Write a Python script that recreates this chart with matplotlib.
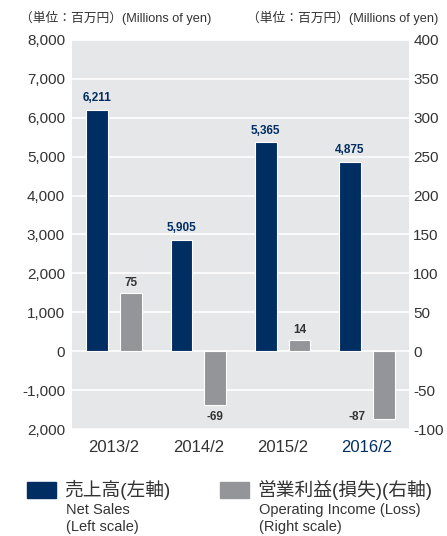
import numpy as np
import matplotlib.pyplot as plt

plt.rcParams['font.family'] = ['Liberation Sans', 'Noto Sans CJK JP']
plt.rcParams['axes.unicode_minus'] = False

years = ["2013/2", "2014/2", "2015/2", "2016/2"]
sales = [6211, 2870, 5365, 4875]          # bar heights as drawn (left scale)
sales_labels = ["6,211", "5,905", "5,365", "4,875"]
income = [75, -69, 14, -87]               # right scale
income_labels = ["75", "-69", "14", "-87"]

left_ticks = [8000, 7000, 6000, 5000, 4000, 3000, 2000, 1000, 0, -1000, -2000]
left_ticklabels = ["8,000", "7,000", "6,000", "5,000", "4,000", "3,000",
                   "2,000", "1,000", "0", "-1,000", "2,000"]
right_ticks = [400, 350, 300, 250, 200, 150, 100, 50, 0, -50, -100]

NAVY = "#002d62"
GRAY = "#939598"
BG = "#e6e7e8"
TXT = "#333333"

fig = plt.figure(figsize=(4.47, 5.36), dpi=100)
ax = fig.add_axes([0.161, 0.1996, 0.754, 0.7258])
ax2 = ax.twinx()

x = np.arange(len(years))
w = 0.26
off = 0.2

ax.set_facecolor(BG)
ax.set_xlim(-0.5, 3.5)
ax.set_ylim(-2000, 8000)
ax2.set_ylim(-100, 400)
ax.set_yticks(left_ticks)
ax.set_yticklabels(left_ticklabels)
ax2.set_yticks(right_ticks)
ax.yaxis.grid(True, color="white", linewidth=1.2)
ax.set_axisbelow(True)

ax.bar(x - off, sales, width=w, color=NAVY, edgecolor="white", linewidth=0.8, zorder=3)
ax2.bar(x + off, income, width=w, color=GRAY, edgecolor="white", linewidth=0.8, zorder=3)

for i, v in enumerate(sales):
    ax.text(x[i] - off, v + 150, sales_labels[i], ha="center", va="bottom",
            fontsize=8.5, fontweight="bold", color=NAVY)
for i, v in enumerate(income):
    if v >= 0:
        ax2.text(x[i] + off, v + 5, income_labels[i], ha="center", va="bottom",
                 fontsize=8.5, fontweight="bold", color=TXT)
    elif i == 1:
        ax2.text(x[i] + off, v - 8, income_labels[i], ha="center", va="top",
                 fontsize=8.5, fontweight="bold", color=TXT)
    else:
        ax2.text(x[i] + off - 0.22, v + 2, income_labels[i], ha="right", va="center",
                 fontsize=8.5, fontweight="bold", color=TXT)

for a in (ax, ax2):
    for s in a.spines.values():
        s.set_visible(False)
    a.tick_params(length=0, labelsize=11, colors=TXT)
ax.tick_params(axis="y", pad=5)
ax2.tick_params(axis="y", pad=3)

ax.set_xticks(x)
ax.set_xticklabels(years)
ax.tick_params(axis="x", pad=8, labelsize=12)
ax.get_xticklabels()[-1].set_color(NAVY)

fig.text(0.045, 0.966, "（単位：百万円）(Millions of yen)", fontsize=9.2, color=TXT, va="center")
fig.text(0.552, 0.966, "（単位：百万円）(Millions of yen)", fontsize=9.2, color=TXT, va="center")

# legend
fig.patches.append(plt.Rectangle((27 / 447, 1 - 498 / 536), 29 / 447, 16 / 536,
                                 transform=fig.transFigure, color=NAVY))
fig.patches.append(plt.Rectangle((220 / 447, 1 - 498 / 536), 29 / 447, 16 / 536,
                                 transform=fig.transFigure, color=GRAY))
fig.text(64 / 447, 1 - 490 / 536, "売上高(左軸)", fontsize=13.5, color=TXT, va="center")
fig.text(66 / 447, 1 - 510 / 536, "Net Sales", fontsize=10.5, color=TXT, va="center")
fig.text(66 / 447, 1 - 527 / 536, "(Left scale)", fontsize=10.5, color=TXT, va="center")
fig.text(257 / 447, 1 - 490 / 536, "営業利益(損失)(右軸)", fontsize=13.5, color=TXT, va="center")
fig.text(259 / 447, 1 - 510 / 536, "Operating Income (Loss)", fontsize=10.5, color=TXT, va="center")
fig.text(259 / 447, 1 - 527 / 536, "(Right scale)", fontsize=10.5, color=TXT, va="center")

fig.savefig("out.png", dpi=100)
